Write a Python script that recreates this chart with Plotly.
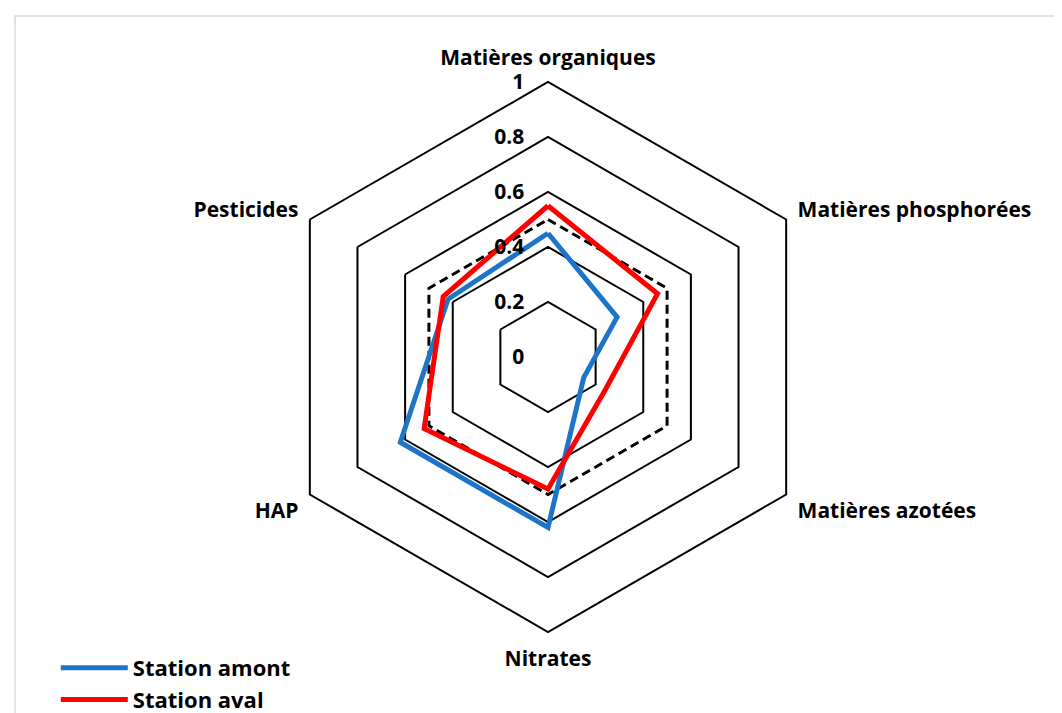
import plotly.graph_objects as go

categories = ["Matières organiques", "Matières phosphorées", "Matières azotées",
              "Nitrates", "HAP", "Pesticides"]
amont = [0.45, 0.29, 0.15, 0.62, 0.62, 0.42]
aval = [0.55, 0.46, 0.24, 0.48, 0.52, 0.44]
seuil = [0.5, 0.5, 0.5, 0.5, 0.5, 0.5]
radial_ticks = [0, 0.2, 0.4, 0.6, 0.8, 1]
radial_labels = ["0", "0.2", "0.4", "0.6", "0.8", "1"]

W, H = 1062, 713
cx, cy, R = 540, 349, 275

def closed(v):
    return list(v) + [v[0]]

fig = go.Figure()
fig.add_trace(go.Scatterpolar(r=closed(seuil), theta=closed(categories), mode="lines",
                              line=dict(color="black", width=3, dash="9px,5px"),
                              showlegend=False, hoverinfo="skip"))
fig.add_trace(go.Scatterpolar(r=closed(amont), theta=closed(categories), mode="lines",
                              name="Station amont", line=dict(color="#1C75C8", width=5)))
fig.add_trace(go.Scatterpolar(r=closed(aval), theta=closed(categories), mode="lines",
                              name="Station aval", line=dict(color="#FF0000", width=5)))

font_b = dict(family="Open Sans", size=21, color="black", weight="bold")

fig.update_layout(
    width=W, height=H,
    margin=dict(l=0, r=0, t=0, b=0),
    paper_bgcolor="white",
    font=font_b,
    polar=dict(
        domain=dict(x=[(cx - R) / W, (cx + R) / W],
                    y=[(H - cy - R) / H, (H - cy + R) / H]),
        gridshape="linear",
        bgcolor="white",
        radialaxis=dict(range=[0, 1], tickvals=radial_ticks, ticktext=radial_labels,
                        angle=90, tickangle=90, side="counterclockwise",
                        showline=False, ticks="outside", ticklen=16,
                        tickcolor="rgba(0,0,0,0)",
                        gridcolor="black", gridwidth=2,
                        tickfont=font_b),
        angularaxis=dict(rotation=90, direction="clockwise", showgrid=False,
                         showline=True, linecolor="black", linewidth=2,
                         ticks="outside", ticklen=8, tickcolor="rgba(0,0,0,0)",
                         tickfont=font_b),
    ),
    legend=dict(x=0.045, y=0.0, xanchor="left", yanchor="bottom",
                itemwidth=67,
                font=dict(family="Open Sans", size=22, color="black", weight="bold"),
                bgcolor="rgba(0,0,0,0)", tracegroupgap=0),
    shapes=[dict(type="rect", xref="paper", yref="paper",
                 x0=7 / W, x1=1058 / W, y0=-0.05, y1=1 - 8 / H,
                 line=dict(color="#D9D9D9", width=1.5))],
)

fig.write_html("out.html")
